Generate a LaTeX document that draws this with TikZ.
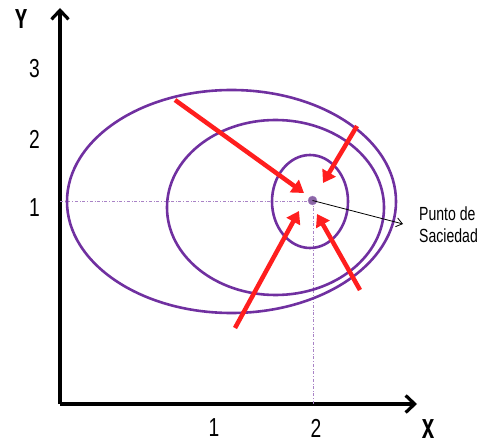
\documentclass[tikz,border=0pt]{standalone}
\usepackage{fontspec}
\setmainfont{Liberation Sans}
\newfontfamily\narrowfont[FakeStretch=0.74]{Liberation Sans}
\newfontfamily\herosfont{TeX Gyre Heros}
\newcommand{\axtext}[1]{\scalebox{0.74}[1]{\herosfont\fontsize{26}{26}\selectfont\bfseries #1}}
\usetikzlibrary{arrows.meta}
\definecolor{violeta}{RGB}{112,48,160}
\definecolor{rojo}{RGB}{255,30,30}
\begin{document}
\begin{tikzpicture}[x=1pt,y=-1pt,
  axis/.style={line width=3.2pt,-{Straight Barb[length=9pt,width=17pt,line width=3.2pt]}},
  curve/.style={draw=violeta,line width=2.6pt},
  guide/.style={draw=violeta!60,dash dot,line width=0.6pt},
  force/.style={draw=rojo,line width=4.5pt,-{Triangle[length=12pt,width=15pt]}},
  lbl/.style={font=\narrowfont\fontsize{26}{26}\selectfont,inner sep=0pt},
  axlbl/.style={inner sep=0pt}]
\useasboundingbox (0,0) rectangle (481,443);
\coordinate (O) at (60,404);
\coordinate (ytop) at (60,8);
\coordinate (xend) at (417,404);
\draw[axis] (O) -- (ytop);
\draw[axis] (O) -- (xend);
\node[axlbl] (Y) at (21,19) {\axtext{Y}};
\node[axlbl] (X) at (428,429) {\axtext{X}};
\node[lbl] (y3) at (34.5,69) {3};
\node[lbl] (y2) at (34.5,139) {2};
\node[lbl] (y1) at (34.5,208) {1};
\node[lbl] (x1) at (214,428) {1};
\node[lbl] (x2) at (316,428) {2};
% guides
\coordinate (gy) at (60,201);
\coordinate (gx) at (313,404);
\draw[guide] (gy) -- (313,201);
\draw[guide] (313,201) -- (gx);
% curves
\draw[curve] (231.5,201.5) ellipse [x radius=164.5, y radius=111.5];
\draw[curve] (275.5,207.5) ellipse [x radius=108.5, y radius=87.5];
\draw[curve] (310,201.5) ellipse [x radius=38, y radius=46.5];
% satiation point
\node[circle,fill=violeta!80!black!70,draw=violeta!60,inner sep=0pt,minimum size=9pt] (P) at (312.5,200.5) {};
\coordinate (tip) at (403,224);
\draw[line width=0.8pt,-{Straight Barb[open,length=6pt,width=9pt]}] (P.center) -- (tip);
\node[font=\narrowfont\fontsize{19}{22}\selectfont,align=left,anchor=west,inner sep=0pt] (lab) at (419,225) {Punto de\\Saciedad};
% red arrows
\coordinate (a1s) at (175,100); \coordinate (a1e) at (304,193);
\coordinate (a2s) at (357,126); \coordinate (a2e) at (323,183);
\coordinate (a3s) at (235,328); \coordinate (a3e) at (299,211);
\coordinate (a4s) at (360,290); \coordinate (a4e) at (317,214);
\draw[force] (a1s) -- (a1e);
\draw[force] (a2s) -- (a2e);
\draw[force] (a3s) -- (a3e);
\draw[force] (a4s) -- (a4e);
\end{tikzpicture}
\end{document}
